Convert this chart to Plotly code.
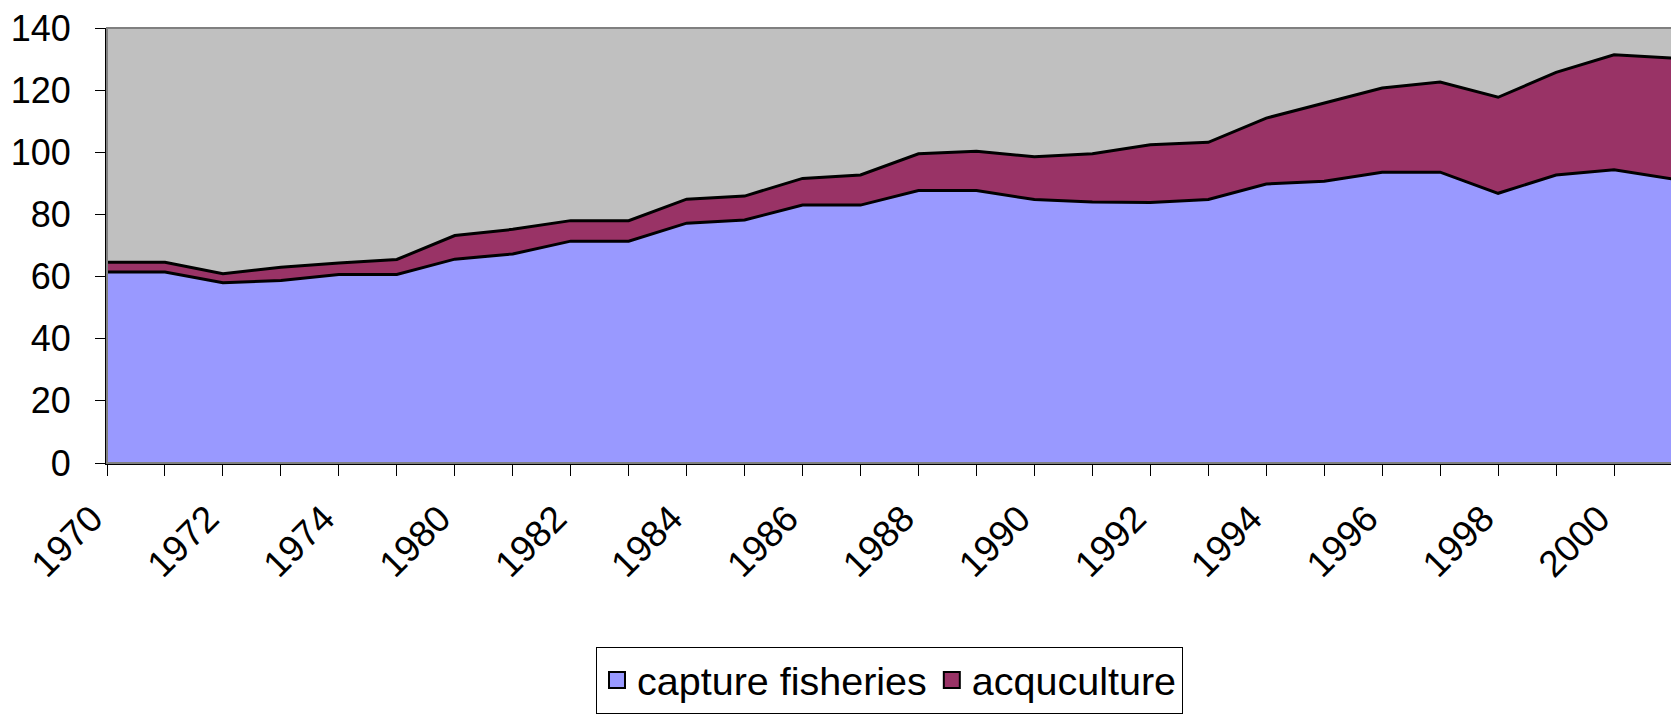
import plotly.graph_objects as go

years = ["1970", "1971", "1972", "1973", "1974", "1975", "1980", "1981", "1982", "1983",
         "1984", "1985", "1986", "1987", "1988", "1989", "1990", "1991", "1992", "1993",
         "1994", "1995", "1996", "1997", "1998", "1999", "2000", "2001"]
capture_fisheries = [61.5, 61.5, 58.0, 58.7, 60.7, 60.7, 65.6, 67.3, 71.4, 71.4,
                     77.2, 78.2, 83.0, 83.0, 87.7, 87.7, 84.8, 84.0, 83.8, 84.8,
                     89.8, 90.7, 93.6, 93.6, 86.8, 92.7, 94.4, 91.4]
acquculture = [3.1, 3.1, 2.9, 4.3, 3.7, 4.8, 7.6, 7.9, 6.6, 6.6,
               7.7, 7.7, 8.6, 9.7, 11.8, 12.6, 13.8, 15.5, 18.6, 18.4,
               21.2, 25.2, 27.1, 29.0, 30.9, 33.0, 37.0, 38.9]
tick_labels = [y if i % 2 == 0 else "" for i, y in enumerate(years)]

FONT = "Liberation Sans, Arial, sans-serif"
C_CAP = "#9999FF"
C_AQ = "#993366"

fig = go.Figure()
fig.add_trace(go.Scatter(x=years, y=capture_fisheries, stackgroup="one", mode="lines",
                         line=dict(color="black", width=3), fillcolor=C_CAP,
                         name="capture fisheries", showlegend=False))
fig.add_trace(go.Scatter(x=years, y=acquculture, stackgroup="one", mode="lines",
                         line=dict(color="black", width=3), fillcolor=C_AQ,
                         name="acquculture", showlegend=False))
# legend entries
for nm, col in [("capture fisheries", C_CAP), ("acquculture", C_AQ)]:
    fig.add_trace(go.Scatter(x=[None], y=[None], mode="markers", name=nm,
                             marker=dict(symbol="square", size=16, color=col,
                                         line=dict(color="black", width=2))))

totals = [a + b for a, b in zip(capture_fisheries, acquculture)]
# grey plot frame (top/right)
fig.add_shape(type="rect", xref="x domain", yref="y domain", x0=0, x1=1, y0=0, y1=1,
              line=dict(color="#808080", width=2), fillcolor="rgba(0,0,0,0)", layer="above")
# black outline on right edge of the area
fig.add_shape(type="line", xref="x", yref="y", x0=years[-1], x1=years[-1], y0=0, y1=totals[-1],
              line=dict(color="black", width=3), layer="above")

# page body has an 8px margin: figure is offset by 8px
fig.update_layout(
    width=1671, height=711,
    margin=dict(l=99, r=7, t=20, b=256, autoexpand=False),
    plot_bgcolor="#C0C0C0", paper_bgcolor="white",
    font=dict(family=FONT, size=36, color="black"),
    showlegend=True,
    legend=dict(orientation="h", x=0.5, xanchor="center", y=-0.4225, yanchor="top",
                bordercolor="black", borderwidth=1, font=dict(size=39.5),
                traceorder="normal", itemwidth=30, tracegroupgap=0),
)
fig.update_xaxes(type="category", range=[0, len(years) - 1], tickmode="array",
                 tickvals=years, ticktext=tick_labels, tickangle=-45,
                 ticks="outside", ticklen=11, tickcolor="black", tickwidth=1,
                 showline=True, linecolor="black", linewidth=2, showgrid=False,
                 zeroline=False, ticklabelstandoff=6, ticklabelshift=-15,
                 tickfont=dict(size=37), automargin=False, ticklabeloverflow="allow")
fig.update_yaxes(range=[0, 140], dtick=20, ticks="outside", ticklen=10, tickcolor="black",
                 tickwidth=1, showline=True, linecolor="black", linewidth=2, showgrid=False,
                 zeroline=False, tickfont=dict(size=36), ticklabelstandoff=17,
                 automargin=False, ticklabeloverflow="allow")

fig.write_html("out.html")
